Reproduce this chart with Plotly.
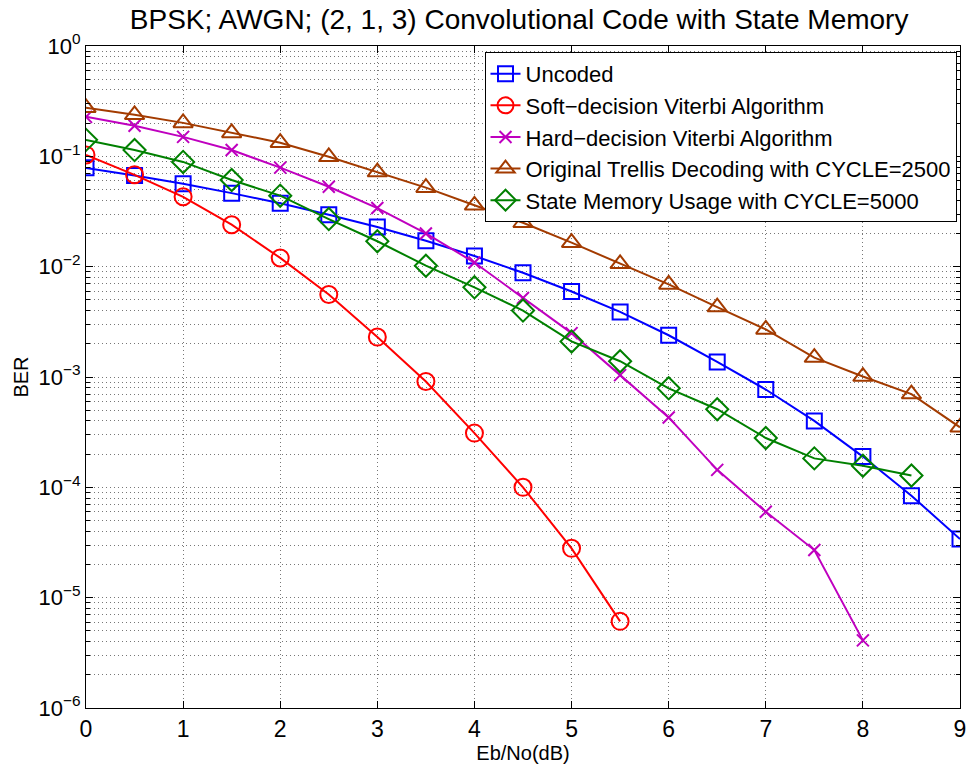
import plotly.graph_objects as go

ebno = [0, 0.5, 1, 1.5, 2, 2.5, 3, 3.5, 4, 4.5, 5, 5.5, 6, 6.5, 7, 7.5, 8, 8.5, 9]

uncoded = [0.0786, 0.0671, 0.0563, 0.0464, 0.0375, 0.0296, 0.0229, 0.0172, 0.0125, 0.0088,
           0.00595, 0.00389, 0.00239, 0.00137, 7.7e-4, 4.0e-4, 1.9e-4, 8.4e-5, 3.4e-5]
soft = [0.103, 0.068, 0.043, 0.024, 0.012, 0.0056, 0.0023, 9.1e-4, 3.1e-4, 1.0e-4, 2.8e-5, 6.1e-6]
hard = [0.228, 0.189, 0.150, 0.114, 0.079, 0.053, 0.034, 0.020, 0.0109, 0.0052, 0.0025,
        0.00104, 4.3e-4, 1.44e-4, 6.0e-5, 2.7e-5, 4.1e-6]
trellis = [0.275, 0.238, 0.201, 0.163, 0.133, 0.099, 0.072, 0.052, 0.036, 0.025, 0.0165,
           0.0106, 0.0069, 0.0043, 0.0027, 0.0015, 0.00101, 0.00070, 0.00035]
state_mem = [0.141, 0.114, 0.089, 0.061, 0.044, 0.027, 0.017, 0.0102, 0.0065, 0.0040, 0.0021,
             0.00139, 0.00079, 0.00051, 0.00028, 0.000183, 0.000157, 0.000128]

y_tickvals = [1e0, 1e-1, 1e-2, 1e-3, 1e-4, 1e-5, 1e-6]
y_ticktext = ["10<sup>0</sup>", "10<sup>−1</sup>", "10<sup>−2</sup>", "10<sup>−3</sup>",
              "10<sup>−4</sup>", "10<sup>−5</sup>", "10<sup>−6</sup>"]
x_tickvals = [0, 1, 2, 3, 4, 5, 6, 7, 8, 9]
y_minor_vals = [k * d for d in [1e-6, 1e-5, 1e-4, 1e-3, 1e-2, 1e-1] for k in range(2, 10)]

series = [
    ("Uncoded", uncoded, "#0000FF", "square-open", 15),
    ("Soft\u2212decision Viterbi Algorithm", soft, "#FF0000", "circle-open", 17),
    ("Hard\u2212decision Viterbi Algorithm", hard, "#BF00BF", "x-thin-open", 12),
    ("Original Trellis Decoding with CYCLE=2500", trellis, "#A33B00", "triangle-up-open", 17),
    ("State Memory Usage with CYCLE=5000", state_mem, "#008000", "diamond-open", 17),
]

fig = go.Figure()
for name, vals, color, sym, sz in series:
    fig.add_trace(go.Scatter(
        x=ebno[:len(vals)], y=vals, name=name, mode="lines+markers",
        line=dict(color=color, width=2),
        marker=dict(symbol=sym, size=sz, color=color, line=dict(color=color, width=2)),
    ))

font_family = "Liberation Sans, Arial, Helvetica, sans-serif"
grid_col = "#777777"
fig.update_layout(
    width=974, height=765,
    margin=dict(l=86, r=8, t=46, b=57),
    paper_bgcolor="white", plot_bgcolor="white",
    font=dict(family=font_family, size=20, color="black"),
    title=dict(text="BPSK; AWGN; (2, 1, 3) Convolutional Code with State Memory",
               x=0.533, xanchor="center", y=0.975, yanchor="middle",
               font=dict(size=28, color="black")),
    legend=dict(x=0.996, y=0.991, xanchor="right", yanchor="top",
                bordercolor="black", borderwidth=1, bgcolor="white",
                font=dict(size=22), tracegroupgap=0, itemwidth=30),
    showlegend=True,
)
fig.update_xaxes(
    range=[0, 9], tickvals=x_tickvals, showline=True, linecolor="black", linewidth=1,
    mirror="allticks", ticks="inside", ticklen=7, tickcolor="black",
    showgrid=True, gridcolor=grid_col, griddash="1px,3px", gridwidth=1, zeroline=False,
    title=dict(text="Eb/No(dB)", font=dict(size=20), standoff=0),
    tickfont=dict(size=23),
)
fig.update_yaxes(
    type="log", range=[-6, 0], tickvals=y_tickvals, ticktext=y_ticktext,
    showline=True, linecolor="black", linewidth=1, mirror="allticks",
    ticks="inside", ticklen=7, tickcolor="black",
    showgrid=True, gridcolor=grid_col, griddash="1px,3px", gridwidth=1, zeroline=False,
    minor=dict(tickvals=y_minor_vals, ticks="inside", ticklen=4, tickcolor="black",
               showgrid=True, gridcolor=grid_col, griddash="1px,3px", gridwidth=1),
    title=dict(text="BER", font=dict(size=20), standoff=4),
    tickfont=dict(size=22),
)

fig.write_html("out.html")
